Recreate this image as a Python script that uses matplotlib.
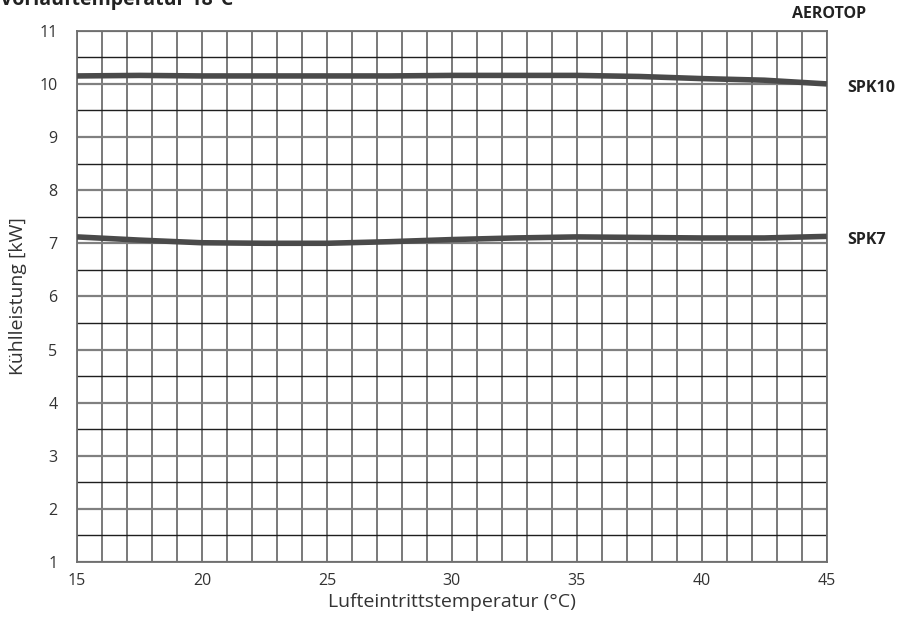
import matplotlib
matplotlib.use("Agg")
import matplotlib.pyplot as plt
import numpy as np

plt.rcParams['font.family'] = ['Open Sans', 'DejaVu Sans']

# Lufteintrittstemperatur (°C)
temp = [15, 17.5, 20, 22.5, 25, 27.5, 30, 32.5, 35, 37.5, 40, 42.5, 45]
# Kühlleistung [kW]
spk10 = [10.15, 10.16, 10.15, 10.15, 10.15, 10.15, 10.16, 10.16, 10.16, 10.14, 10.1, 10.07, 10.0]
spk7 = [7.12, 7.06, 7.01, 7.0, 7.0, 7.03, 7.07, 7.1, 7.12, 7.11, 7.1, 7.1, 7.13]

xticks = [15, 20, 25, 30, 35, 40, 45]
yticks = list(range(1, 12))

fig = plt.figure(figsize=(8.98, 6.17), dpi=100)
ax = fig.add_axes([0.0857, 0.0891, 0.835, 0.861])

ax.set_xlim(15, 45)
ax.set_ylim(1, 11)

# grid: every 1 degC, every 0.5 kW
for x in np.arange(15, 45.5, 1):
    ax.axvline(x, color='#6e6e6e', lw=1.3, zorder=1)
for y in np.arange(1, 11.25, 0.5):
    if y == int(y):
        ax.axhline(y, color='#808080', lw=1.6, zorder=1)
    else:
        ax.axhline(y, color='#1e1e1e', lw=1.0, zorder=1)

ax.plot(temp, spk10, color='#4a4a4a', lw=4, solid_capstyle='butt', zorder=3)
ax.plot(temp, spk7, color='#4a4a4a', lw=4, solid_capstyle='butt', zorder=3)

for s in ax.spines.values():
    s.set_color('#6e6e6e')
    s.set_linewidth(1.3)

ax.set_xticks(xticks)
ax.set_yticks(yticks)
ax.tick_params(length=0, labelsize=11.5, colors='#333333')
ax.tick_params(axis='x', pad=8)
ax.tick_params(axis='y', pad=14)

ax.set_xlabel('Lufteintrittstemperatur (°C)', fontsize=14, color='#333333', labelpad=3)
ax.set_ylabel('Kühlleistung [kW]', fontsize=14, color='#333333', labelpad=9)

ax.text(1.027, 0.893, 'SPK10', transform=ax.transAxes, fontsize=11.5, fontweight='bold',
        color='#222222', va='center', ha='left')
ax.text(1.027, 0.607, 'SPK7', transform=ax.transAxes, fontsize=11.5, fontweight='bold',
        color='#222222', va='center', ha='left')
fig.text(0.923, 0.977, 'AEROTOP', fontsize=11.5, fontweight='bold', color='#222222',
         ha='center', va='center')
fig.text(0.0, 1.0, 'Vorlauftemperatur 18°C', fontsize=14, fontweight='bold',
         color='#222222', ha='left', va='center')

fig.savefig('out.png', dpi=100)
